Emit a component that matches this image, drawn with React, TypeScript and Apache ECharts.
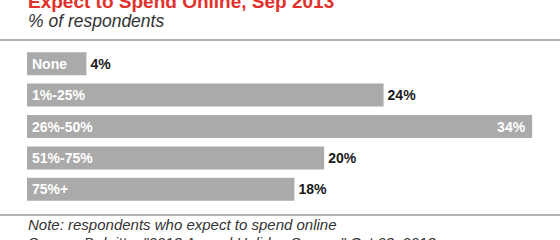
import React, { useEffect, useRef } from "react";
import * as echarts from "echarts";

const categories = ["None", "1%-25%", "26%-50%", "51%-75%", "75%+"];
const values = [4, 24, 34, 20, 18];
const insideValueIndex = 2;

const titleText = "Expect to Spend Online, Sep 2013";
const subtitleText = "% of respondents";
const noteText = "Note: respondents who expect to spend online";
const sourceText = 'Source: Deloitte, "2013 Annual Holiday Survey," Oct 03, 2013';

const FONT = '"Liberation Sans", Arial, Helvetica, sans-serif';

export default function App() {
  const ref = useRef<HTMLDivElement>(null);
  useEffect(() => {
    if (!ref.current) return;
    const chart = echarts.init(ref.current, undefined, { renderer: "svg" });
    chart.setOption({
      animation: false,
      backgroundColor: "#ffffff",
      grid: { left: 27, right: 13, top: 48, height: 157, containLabel: false },
      xAxis: {
        type: "value",
        min: 0,
        max: 35,
        show: false,
      },
      yAxis: {
        type: "category",
        data: categories,
        inverse: true,
        z: 10,
        axisLine: { show: false },
        axisTick: { show: false },
        splitLine: { show: false },
        axisLabel: {
          inside: true,
          margin: 5,
          color: "#ffffff",
          fontFamily: FONT,
          fontWeight: "bold",
          fontSize: 14,
        },
      },
      series: [
        {
          type: "bar",
          barWidth: 23,
          itemStyle: { color: "#aaaaaa" },
          label: {
            show: true,
            position: "right",
            distance: 4,
            formatter: "{c}%",
            color: "#1a1a1a",
            fontFamily: FONT,
            fontWeight: "bold",
            fontSize: 14,
          },
          data: values.map((v, i) =>
            i === insideValueIndex
              ? { value: v, label: { position: "insideRight", distance: 7, color: "#ffffff" } }
              : v
          ),
        },
      ],
      graphic: [
        {
          type: "text",
          x: 28,
          y: 1.5,
          style: {
            text: titleText,
            font: `bold 19px ${FONT}`,
            fill: "#e2312b",
            verticalAlign: "middle",
            textVerticalAlign: "middle",
          },
        },
        {
          type: "text",
          x: 28,
          y: 21,
          style: {
            text: subtitleText,
            font: `italic 17.5px ${FONT}`,
            fill: "#333333",
            verticalAlign: "middle",
            textVerticalAlign: "middle",
          },
        },
        {
          type: "line",
          shape: { x1: 0, y1: 40, x2: 560, y2: 40 },
          style: { stroke: "#9a9a9a", lineWidth: 1.5 },
        },
        {
          type: "line",
          shape: { x1: 0, y1: 215, x2: 560, y2: 215 },
          style: { stroke: "#9a9a9a", lineWidth: 1.5 },
        },
        {
          type: "text",
          x: 28,
          y: 224.8,
          style: {
            text: noteText,
            font: `italic 15px ${FONT}`,
            fill: "#333333",
            verticalAlign: "middle",
            textVerticalAlign: "middle",
          },
        },
        {
          type: "text",
          x: 28,
          y: 242,
          style: {
            text: sourceText,
            font: `italic 15px ${FONT}`,
            fill: "#333333",
            verticalAlign: "middle",
            textVerticalAlign: "middle",
          },
        },
      ],
    });
    return () => chart.dispose();
  }, []);
  return (
    <div
      ref={ref}
      style={{ width: 560, height: 240, position: "absolute", left: 0, top: 0 }}
    />
  );
}
